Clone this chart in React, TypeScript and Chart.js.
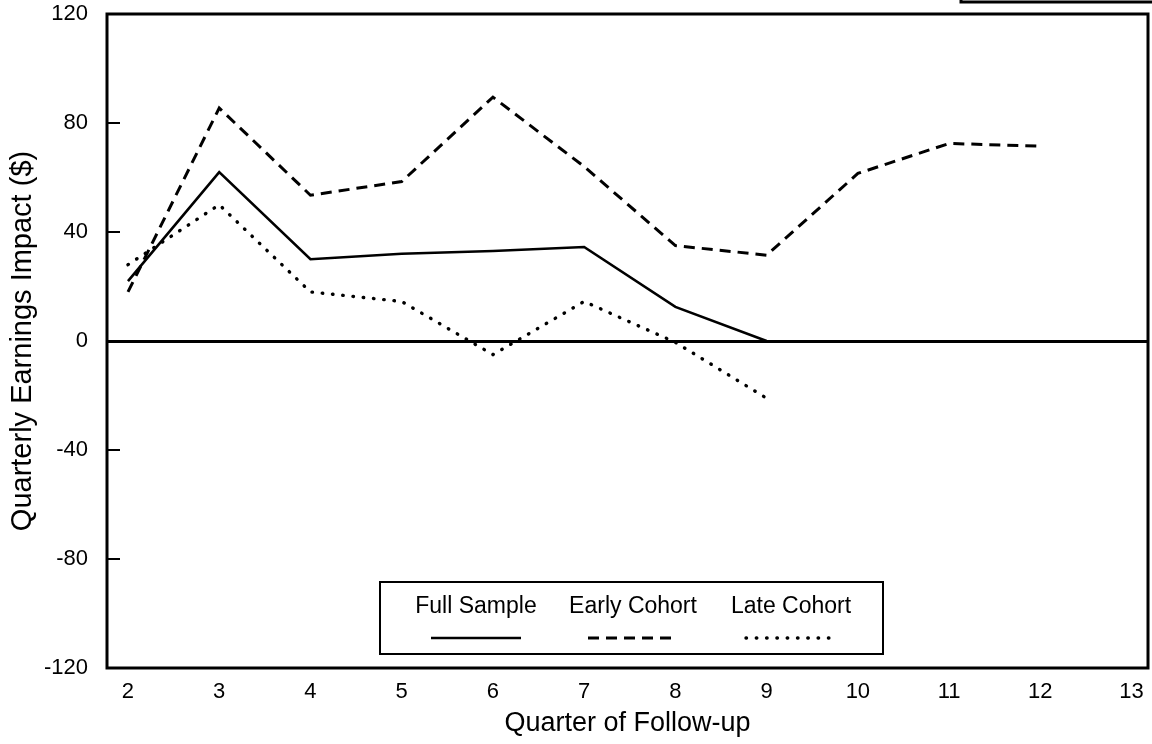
import React, { useEffect, useRef } from "react";
import { Chart, registerables } from "chart.js";

Chart.register(...registerables);

// ---- data ----
const quarters = [2, 3, 4, 5, 6, 7, 8, 9, 10, 11, 12];
const fullSample = [22, 62, 30, 32, 33, 34.5, 12.5, 0];
const earlyCohort = [18, 85.5, 53.5, 58.5, 89.5, 64, 35, 31.5, 61.5, 72.5, 71.5];
const lateCohort = [28, 50, 18, 14.5, -5, 14.5, -0.5, -21];
const xTickValues = [2, 3, 4, 5, 6, 7, 8, 9, 10, 11, 12, 13];
const yTickValues = [-120, -80, -40, 0, 40, 80, 120];
const seriesNames = ["Full Sample", "Early Cohort", "Late Cohort"];
const xTitle = "Quarter of Follow-up";
const yTitle = "Quarterly Earnings Impact ($)";

const FONT = "'Liberation Sans', Arial, Helvetica, sans-serif";

const toPoints = (vals: number[]) => vals.map((v, i) => ({ x: quarters[i], y: v }));

const dashStyles: number[][] = [[], [11, 7], [0.5, 9.8]];
const lineWidths = [2.6, 3, 3.4];

const framePlugin = {
  id: "frame",
  afterDatasetsDraw(chart: any) {
    const { ctx, chartArea } = chart;
    const ys = chart.scales.y;
    ctx.save();
    ctx.strokeStyle = "#000";
    ctx.lineWidth = 3;
    ctx.strokeRect(chartArea.left, chartArea.top, chartArea.right - chartArea.left, chartArea.bottom - chartArea.top);
    // inward tick marks on the y axis
    ctx.lineWidth = 2;
    yTickValues.forEach((v) => {
      if (v === yTickValues[0] || v === yTickValues[yTickValues.length - 1]) return;
      const y = ys.getPixelForValue(v);
      ctx.beginPath();
      ctx.moveTo(chartArea.left, y);
      ctx.lineTo(chartArea.left + 13, y);
      ctx.stroke();
    });
    // scan artifact: line at very top right
    ctx.lineWidth = 3;
    ctx.beginPath();
    ctx.moveTo(961, 0);
    ctx.lineTo(961, 2);
    ctx.lineTo(1152, 2);
    ctx.stroke();
    ctx.restore();
  },
};

const legendPlugin = {
  id: "boxLegend",
  afterDraw(chart: any) {
    const { ctx } = chart;
    const box = { left: 380, right: 883, top: 582, bottom: 654 };
    const centers = [476, 633, 791];
    const sampleHalf = 45;
    ctx.save();
    ctx.fillStyle = "#fff";
    ctx.fillRect(box.left, box.top, box.right - box.left, box.bottom - box.top);
    ctx.strokeStyle = "#000";
    ctx.lineWidth = 2;
    ctx.strokeRect(box.left, box.top, box.right - box.left, box.bottom - box.top);
    ctx.font = `23px ${FONT}`;
    ctx.fillStyle = "#000";
    ctx.textAlign = "center";
    ctx.textBaseline = "middle";
    chart.data.datasets.forEach((ds: any, i: number) => {
      ctx.fillText(ds.label, centers[i], 607);
      ctx.save();
      ctx.lineWidth = ds.borderWidth;
      ctx.setLineDash(ds.borderDash || []);
      ctx.lineCap = ds.borderCapStyle || "butt";
      ctx.beginPath();
      ctx.moveTo(centers[i] - sampleHalf, 638);
      ctx.lineTo(centers[i] + sampleHalf, 638);
      ctx.stroke();
      ctx.restore();
    });
    ctx.restore();
  },
};

export default function App() {
  const canvasRef = useRef<HTMLCanvasElement | null>(null);

  useEffect(() => {
    const canvas = canvasRef.current;
    if (!canvas) return;
    const chart = new Chart(canvas, {
      type: "line",
      data: {
        datasets: [fullSample, earlyCohort, lateCohort].map((vals, i) => ({
          label: seriesNames[i],
          data: toPoints(vals),
          borderColor: "#000",
          backgroundColor: "#000",
          borderWidth: lineWidths[i],
          borderDash: dashStyles[i],
          borderCapStyle: i === 2 ? "round" : "butt",
          borderJoinStyle: "miter",
          pointRadius: 0,
          tension: 0,
          fill: false,
        })) as any,
      },
      options: {
        animation: false,
        responsive: false,
        devicePixelRatio: 1,
        layout: { padding: { left: 0, top: 14, right: 4, bottom: 0 } },
        plugins: {
          legend: { display: false },
          tooltip: { enabled: false },
        },
        scales: {
          x: {
            type: "linear",
            min: 1.77,
            max: 13.18,
            afterBuildTicks: (scale: any) => {
              scale.ticks = xTickValues.map((v) => ({ value: v }));
            },
            afterFit: (scale: any) => {
              scale.height = 76;
              scale.paddingLeft = 0;
              scale.paddingRight = 0;
            },
            grid: { display: false, drawTicks: false },
            border: { display: false },
            ticks: {
              color: "#000",
              padding: 11,
              maxRotation: 0,
              autoSkip: false,
              font: { family: FONT, size: 22 },
            },
            title: {
              display: true,
              text: xTitle,
              color: "#000",
              font: { family: FONT, size: 27 },
              padding: { top: 0, bottom: 4 },
            },
          },
          y: {
            type: "linear",
            min: -120,
            max: 120,
            afterBuildTicks: (scale: any) => {
              scale.ticks = yTickValues.map((v) => ({ value: v }));
            },
            afterFit: (scale: any) => {
              scale.width = 107;
              scale.paddingTop = 0;
              scale.paddingBottom = 0;
            },
            grid: {
              drawTicks: false,
              color: (c: any) => (c.tick && c.tick.value === 0 ? "#000" : "rgba(0,0,0,0)"),
              lineWidth: (c: any) => (c.tick && c.tick.value === 0 ? 3 : 0),
            },
            border: { display: false },
            ticks: {
              color: "#000",
              padding: 19,
              font: { family: FONT, size: 22 },
            },
            title: {
              display: true,
              text: yTitle,
              color: "#000",
              font: { family: FONT, size: 29 },
              padding: { top: 6, bottom: 0 },
            },
          },
        },
      },
      plugins: [framePlugin, legendPlugin],
    });
    return () => chart.destroy();
  }, []);

  return (
    <div style={{ position: "absolute", left: 0, top: 0, width: 1152, height: 744, background: "#fff" }}>
      <canvas ref={canvasRef} width={1152} height={744} />
    </div>
  );
}
